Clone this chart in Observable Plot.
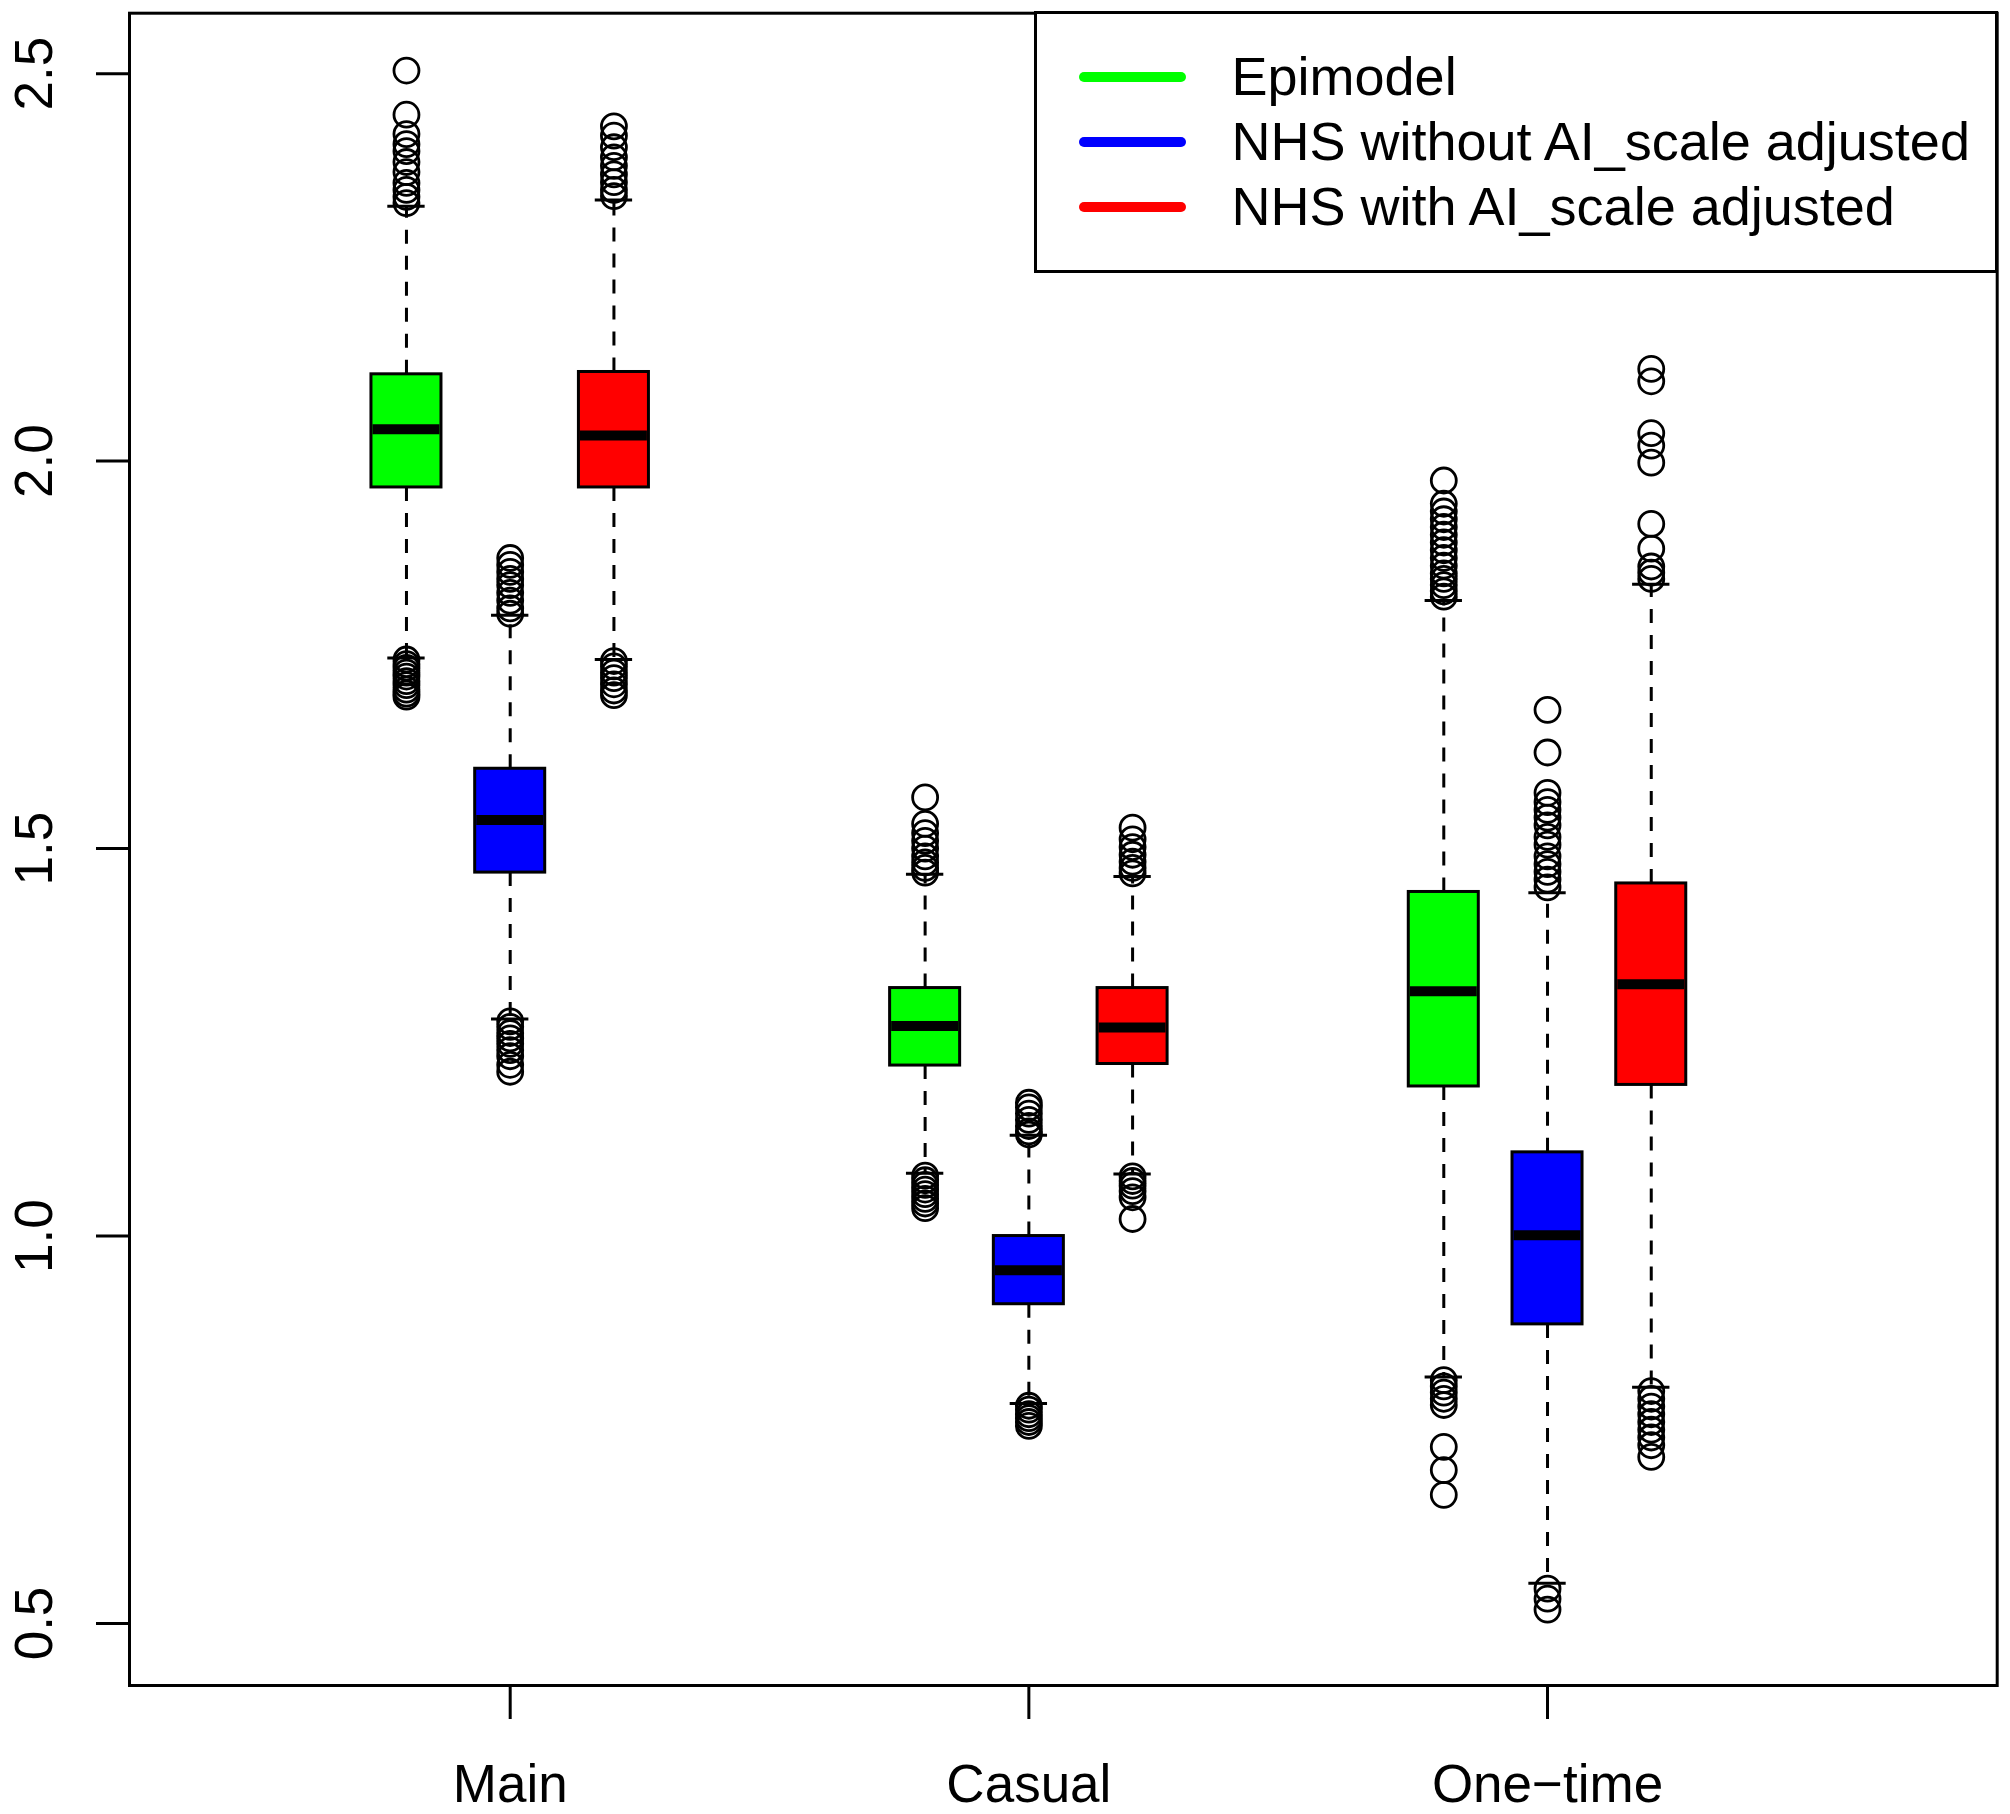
<!DOCTYPE html>
<html>
<head>
<meta charset="utf-8">
<script src="https://cdn.jsdelivr.net/npm/d3@7"></script>
<script src="https://cdn.jsdelivr.net/npm/@observablehq/plot@0.6"></script>
<style>
  html, body { margin: 0; padding: 0; background: #fff; }
  #wrap { position: relative; width: 2010px; height: 1814px; font-family: "Liberation Sans", Arial, sans-serif; }
  #legend { position: absolute; left: 1033.5px; top: 11.2px; width: 964.7px; height: 262px; border: 3px solid #000; box-sizing: border-box; background: #fff; }
  .lrow { position: absolute; left: 0; height: 0; }
  .lline { position: absolute; left: 42px; width: 107px; height: 10px; border-radius: 5px; top: -5px; }
  .ltext { position: absolute; left: 195px; top: -33.5px; font-size: 54px; line-height: 66px; white-space: nowrap; color: #000; }
</style>
</head>
<body>
<div id="wrap"></div>
<script>
// ---- data ----
const groups = ["Main", "Casual", "One\u2212time"];
const series = ["Epimodel", "NHS without AI_scale adjusted", "NHS with AI_scale adjusted"];
const colors = ["#00FF00", "#0000FF", "#FF0000"];
const positions = [1, 2, 3, 6, 7, 8, 11, 12, 13];
const yTicks = [0.5, 1.0, 1.5, 2.0, 2.5];

const q1          = [1.966, 1.469, 1.966, 1.220, 0.912, 1.222, 1.193, 0.886, 1.195];
const median      = [2.041, 1.537, 2.033, 1.271, 0.956, 1.269, 1.316, 1.001, 1.325];
const q3          = [2.112, 1.603, 2.115, 1.320, 1.000, 1.320, 1.444, 1.108, 1.455];
const whiskerLow  = [1.746, 1.280, 1.744, 1.081, 0.784, 1.080, 0.818, 0.552, 0.805];
const whiskerHigh = [2.329, 1.801, 2.337, 1.467, 1.130, 1.464, 1.820, 1.443, 1.841];

const outliersMainEpi  = [2.504, 2.447, 2.422, 2.409, 2.400, 2.386, 2.373, 2.359, 2.350, 2.341, 2.333,
                          1.744, 1.738, 1.733, 1.727, 1.722, 1.716, 1.711, 1.705, 1.700, 1.696];
const outliersMainNo   = [1.875, 1.866, 1.857, 1.848, 1.840, 1.830, 1.820, 1.810, 1.803,
                          1.277, 1.270, 1.262, 1.255, 1.248, 1.240, 1.232, 1.221, 1.212];
const outliersMainWith = [2.432, 2.420, 2.405, 2.392, 2.381, 2.370, 2.360, 2.350, 2.342,
                          1.742, 1.735, 1.727, 1.720, 1.712, 1.704, 1.698];
const outliersCasEpi   = [1.566, 1.532, 1.520, 1.510, 1.500, 1.490, 1.482, 1.475, 1.469,
                          1.078, 1.072, 1.066, 1.060, 1.054, 1.048, 1.042, 1.036];
const outliersCasNo    = [1.172, 1.166, 1.158, 1.150, 1.142, 1.135, 1.131,
                          0.781, 0.776, 0.770, 0.765, 0.760, 0.755];
const outliersCasWith  = [1.527, 1.512, 1.502, 1.492, 1.483, 1.475, 1.468,
                          1.077, 1.071, 1.065, 1.058, 1.050, 1.022];
const outliersOneEpi   = [1.975, 1.945, 1.935, 1.925, 1.915, 1.905, 1.895, 1.885, 1.875, 1.865, 1.855, 1.848, 1.840, 1.832, 1.825,
                          0.814, 0.806, 0.798, 0.790, 0.782, 0.728, 0.698, 0.666];
const outliersOneNo    = [1.679, 1.624, 1.572, 1.560, 1.550, 1.540, 1.530, 1.515, 1.505, 1.490, 1.480, 1.470, 1.460, 1.450,
                          0.545, 0.532, 0.518];
const outliersOneWith  = [2.119, 2.103, 2.036, 2.020, 1.998, 1.919, 1.887, 1.864, 1.856, 1.848,
                          0.800, 0.790, 0.780, 0.770, 0.760, 0.750, 0.740, 0.730, 0.715];
const outliers = [outliersMainEpi, outliersMainNo, outliersMainWith,
                  outliersCasEpi, outliersCasNo, outliersCasWith,
                  outliersOneEpi, outliersOneNo, outliersOneWith];

// ---- build tables ----
const halfBox = 0.3375;     // half box width in x units
const halfStaple = 0.18;
const boxes = positions.map((pos, i) => ({
  pos, series: series[i % 3], color: colors[i % 3],
  q1: q1[i], median: median[i], q3: q3[i], lo: whiskerLow[i], hi: whiskerHigh[i]
}));
const points = positions.flatMap((pos, i) => outliers[i].map(v => ({pos, v})));
const groupCenters = groups.map((g, k) => positions[k * 3 + 1]);

const plot = Plot.plot({
  width: 2010,
  height: 1814,
  marginLeft: 129,
  marginRight: 13.3,
  marginTop: 12.7,
  marginBottom: 129,
  style: {fontFamily: "'Liberation Sans', Arial, sans-serif", fontSize: "53px", background: "#fff", color: "#000"},
  x: {domain: [-1.67, 16.335], axis: null},
  y: {domain: [0.420, 2.578], axis: null},
  marks: [
    // whiskers
    Plot.ruleX(boxes, {x: "pos", y1: "q3", y2: "hi", stroke: "#000", strokeWidth: 3, strokeDasharray: "14,12"}),
    Plot.ruleX(boxes, {x: "pos", y1: "q1", y2: "lo", stroke: "#000", strokeWidth: 3, strokeDasharray: "14,12"}),
    // staples
    Plot.ruleY(boxes, {y: "hi", x1: d => d.pos - halfStaple, x2: d => d.pos + halfStaple, stroke: "#000", strokeWidth: 3}),
    Plot.ruleY(boxes, {y: "lo", x1: d => d.pos - halfStaple, x2: d => d.pos + halfStaple, stroke: "#000", strokeWidth: 3}),
    // boxes
    Plot.rect(boxes, {x1: d => d.pos - halfBox, x2: d => d.pos + halfBox, y1: "q1", y2: "q3",
                      fill: d => d.color, stroke: "#000", strokeWidth: 3}),
    // medians
    Plot.ruleY(boxes, {y: "median", x1: d => d.pos - halfBox + 0.015, x2: d => d.pos + halfBox - 0.015, stroke: "#000", strokeWidth: 10}),
    // outliers
    Plot.dot(points, {x: "pos", y: "v", r: 12.5, stroke: "#000", strokeWidth: 2.8, fill: "none"}),
    // y axis: ticks, then rotated labels
    Plot.axisY({ticks: yTicks, tickFormat: () => "", tickSize: 33, strokeWidth: 3, label: null}),
    Plot.axisY({ticks: yTicks, tickFormat: d => d.toFixed(1), tickSize: 0, tickPadding: 94,
                rotate: -90, textAnchor: "middle", fontSize: 53, label: null}),
    // x axis
    Plot.axisX({ticks: groupCenters, tickFormat: d => groups[groupCenters.indexOf(d)], tickSize: 34,
                tickPadding: 45, fontSize: 53, strokeWidth: 3, label: null}),
    Plot.frame({stroke: "#000", strokeWidth: 3})
  ]
});

const wrap = document.getElementById("wrap");
wrap.appendChild(plot);

// legend (inside plot area, top-right)
const legend = document.createElement("div");
legend.id = "legend";
const rowCenters = [62.5, 127.5, 192.5];
series.forEach((s, i) => {
  const row = document.createElement("div");
  row.className = "lrow";
  row.style.top = rowCenters[i] + "px";
  const line = document.createElement("div");
  line.className = "lline";
  line.style.background = colors[i];
  const txt = document.createElement("div");
  txt.className = "ltext";
  txt.textContent = s;
  row.appendChild(line);
  row.appendChild(txt);
  legend.appendChild(row);
});
wrap.appendChild(legend);
</script>
</body>
</html>
